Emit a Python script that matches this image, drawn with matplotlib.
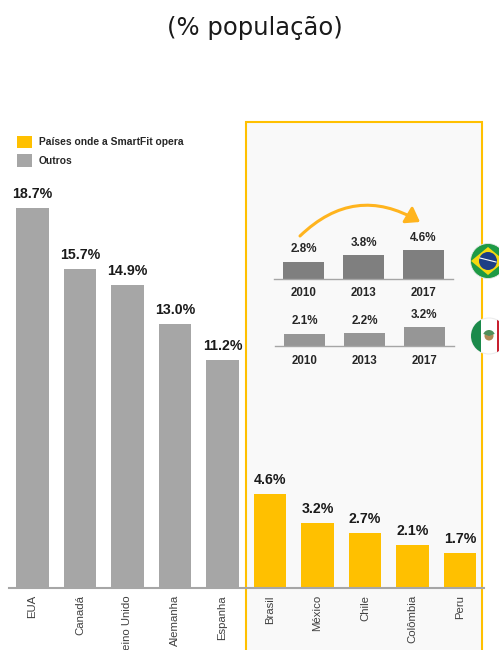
import numpy as np
import matplotlib
matplotlib.use("agg")
import matplotlib.pyplot as plt
from matplotlib.patches import Circle, Rectangle, Polygon, Patch, FancyArrowPatch, Wedge

COUNTRIES = ["EUA", "Canadá", "Reino Unido", "Alemanha", "Espanha", "Brasil", "México", "Chile", "Colômbia", "Peru"]
PENETRATION = [18.7, 15.7, 14.9, 13.0, 11.2, 4.6, 3.2, 2.7, 2.1, 1.7]
N_OTHERS = 5

YEARS = ["2010", "2013", "2017"]
BRAZIL = [2.8, 3.8, 4.6]
MEXICO = [2.1, 2.2, 3.2]

YELLOW = "#FFC000"
GREY = "#A6A6A6"
W, H = 499, 650

plt.rcParams["font.family"] = ["Liberation Sans", "DejaVu Sans"]

def px_axes(fig, left, top, right, bottom):
	"""
	Adds axes placed by pixel edges (y counted from the top of the image).
	"""
	return fig.add_axes([left / W, 1 - bottom / H, (right - left) / W, (bottom - top) / H])

def small_chart(fig, values, color, left, right, baseline, px_per_unit, pad):
	"""
	Small year-by-year bar chart inside the highlighted panel.
	"""
	top = baseline - 60
	ax = px_axes(fig, left, top, right, baseline)
	ax.patch.set_visible(False)
	bars = ax.bar(YEARS, values, width=0.685, color=color)
	ax.bar_label(bars, labels=["{:.1f}%".format(v) for v in values], padding=4.5,
		fontsize=8.4, fontweight="bold", color="#262626")
	ax.set_xlim(-0.5, 2.5)
	ax.set_ylim(0, 60 / px_per_unit)
	ax.set_yticks([])
	for side in ["top", "left", "right"]:
		ax.spines[side].set_visible(False)
	ax.spines["bottom"].set_color(GREY)
	ax.spines["bottom"].set_linewidth(1.0)
	ax.tick_params(axis="x", length=0, pad=pad)
	for label in ax.get_xticklabels():
		label.set_fontsize(8.3)
		label.set_fontweight("bold")
		label.set_color("#262626")
	return ax

fig = plt.figure(figsize=(W / 100, H / 100), dpi=100, facecolor="white")

# Overlay in image pixels for panel, arrow and flags
deco = fig.add_axes([0, 0, 1, 1], zorder=0)
deco.set_xlim(0, W)
deco.set_ylim(H, 0)
deco.axis("off")
deco.add_patch(Rectangle((246.5, 122), 236, 540, facecolor="#F9F9F9", edgecolor=YELLOW, linewidth=1.5))

fig.text(255 / W, 1 - 28 / H, "(% população)", ha="center", va="center", fontsize=17.5, family="DejaVu Sans", color="#1A1A1A")

# Main bars
ax = px_axes(fig, 8.75, 120, 483.75, 587.5)
ax.set_zorder(1)
ax.patch.set_visible(False)
colors = [GREY] * N_OTHERS + [YELLOW] * (len(COUNTRIES) - N_OTHERS)
bars = ax.bar(COUNTRIES, PENETRATION, width=0.685, color=colors)
ax.bar_label(bars, labels=["{:.1f}%".format(v) for v in PENETRATION], padding=5,
	fontsize=10.2, fontweight="bold", color="#1A1A1A")
ax.set_xlim(-0.5, 9.5)
ax.set_ylim(0, 467.5 / 20.3)
ax.set_yticks([])
for side in ["top", "left", "right"]:
	ax.spines[side].set_visible(False)
ax.spines["bottom"].set_color(GREY)
ax.spines["bottom"].set_linewidth(1.5)
ax.tick_params(axis="x", length=0, pad=5.5)
for label in ax.get_xticklabels():
	label.set_rotation(90)
	label.set_fontsize(8.2)
	label.set_color("#404040")

handles = [Patch(facecolor=YELLOW, label="Países onde a SmartFit opera"), Patch(facecolor=GREY, label="Outros")]
ax.legend(handles=handles, loc="upper left", bbox_to_anchor=(0.0174, 0.966), frameon=False,
	prop={"size": 7.4, "weight": "bold"}, handlelength=1.42, handleheight=1.45, handletextpad=0.7,
	labelspacing=0.62, borderpad=0, borderaxespad=0, labelcolor="#262626")

# Small charts in the panel
small_chart(fig, BRAZIL, "#7F7F7F", 274, 453, 279, 6.2, 6).set_zorder(1)
small_chart(fig, MEXICO, "#969696", 275, 454, 346, 5.9, 6.5).set_zorder(1)

# Growth arrow
deco.add_patch(FancyArrowPatch((300, 236), (420, 222), connectionstyle="arc3,rad=-0.38",
	arrowstyle="-|>,head_length=5,head_width=3.5", mutation_scale=1.6, color="#FFB41E", linewidth=2.2, shrinkA=0, shrinkB=0))

# Brazil flag
deco.add_patch(Circle((488, 261), 17.5, facecolor="#1E9A45", edgecolor="#E8E8E8", linewidth=0.6, zorder=3))
deco.add_patch(Polygon([(471, 261), (488, 247), (505, 261), (488, 275)], facecolor="#F5D90F", zorder=4))
deco.add_patch(Circle((488, 261), 9, facecolor="#1C3F86", zorder=5))
deco.plot([480, 496], [258, 262], color="white", linewidth=0.8, zorder=6)

# Mexico flag
disc = Circle((489, 336), 18, facecolor="white", edgecolor="#EDEDED", linewidth=0.8, zorder=3)
deco.add_patch(disc)
green = Rectangle((471, 318), 10, 36, facecolor="#1B8A4B", zorder=4)
red = Rectangle((497, 318), 12, 36, facecolor="#C8202F", zorder=4)
deco.add_patch(green)
deco.add_patch(red)
green.set_clip_path(disc)
red.set_clip_path(disc)
deco.add_patch(Circle((489, 336), 4.5, facecolor="#B08A55", zorder=5))
deco.add_patch(Wedge((489, 336), 6, 200, 340, facecolor="#4F8F5A", zorder=6))

fig.savefig("out.png", dpi=100)
